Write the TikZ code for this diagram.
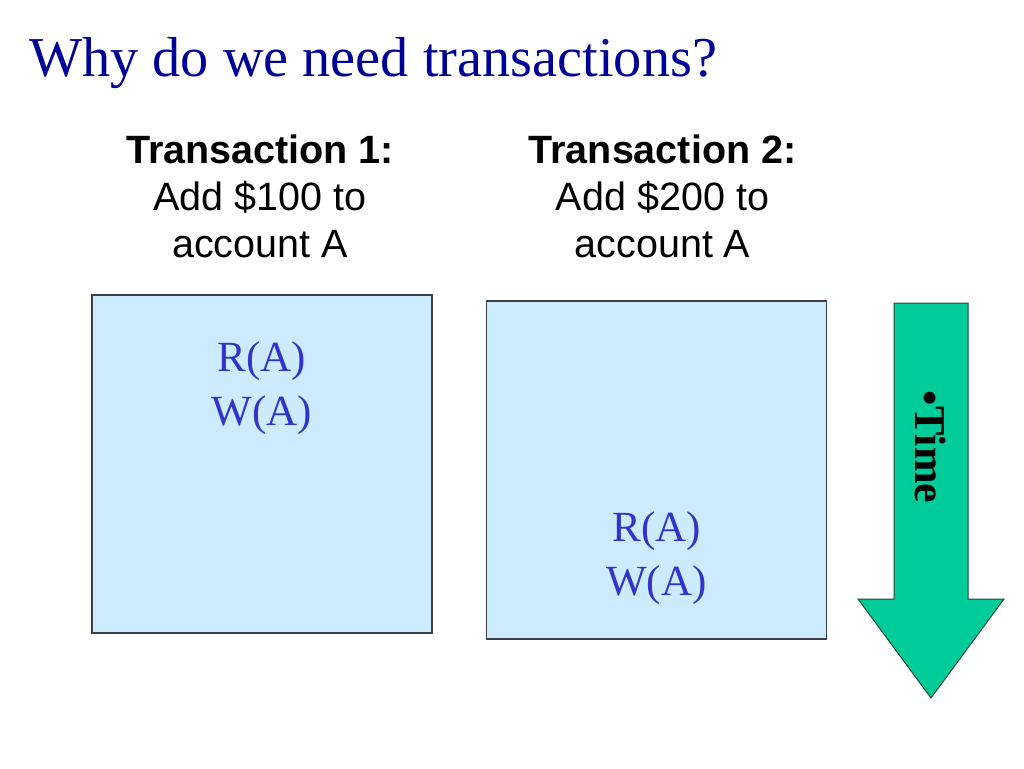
\documentclass[tikz,border=0pt]{standalone}
\usepackage{fontspec}
\setmainfont{Liberation Serif}
\setsansfont{Liberation Sans}
\usetikzlibrary{positioning}

\definecolor{titleblue}{RGB}{0,0,153}
\definecolor{opsblue}{RGB}{51,51,204}
\definecolor{boxfill}{RGB}{204,235,255}
\definecolor{boxline}{RGB}{60,64,70}
\definecolor{timegreen}{RGB}{0,204,153}
\definecolor{timeline}{RGB}{40,70,60}

\begin{document}
\begin{tikzpicture}[x=1pt,y=-1pt,
		txbox/.style={rectangle,draw=boxline,fill=boxfill,line width=1.2pt,minimum width=340pt,minimum height=338pt,inner sep=0pt},
		header/.style={align=center,inner sep=0pt,font=\sffamily\fontsize{39.5}{47}\selectfont},
		ops/.style={align=center,inner sep=0pt,text=opsblue,font=\fontsize{43}{54}\selectfont},
		timearrow/.style={draw=timeline,fill=timegreen,line width=1pt,line join=miter}]

	\useasboundingbox (0,0) rectangle (1024,768);

	\node[anchor=base west,inner sep=0pt,text=titleblue,font=\fontsize{56.3}{68}\selectfont] (title) at (29,77) {Why do we need transactions?};

	% the two transactions
	\node[txbox] (box1) at (262,464) {};
	\node[txbox] (box2) at (656.5,470) {};

	\node[header] (head1) [above=36pt of box1, xshift=-2pt] {\textbf{Transaction 1:}\\Add \$100 to\\account A};
	\node[header] (head2) [above=42pt of box2, xshift=6pt] {\textbf{Transaction 2:}\\Add \$200 to\\account A};

	\node[ops] (ops1) [below=47pt of box1.north] {R(A)\\W(A)};
	\node[ops] (ops2) [above=35pt of box2.south] {R(A)\\W(A)};

	% time arrow
	\draw[timearrow] (894,303) -- (968,303) -- (968,599) -- (1004,599) -- (931,698) -- (858,599) -- (894,599) -- cycle;
	\node[rotate=-90,inner sep=0pt,font=\bfseries\fontsize{44}{52}\selectfont] (time) at (931,447) {•Time};
\end{tikzpicture}
\end{document}
